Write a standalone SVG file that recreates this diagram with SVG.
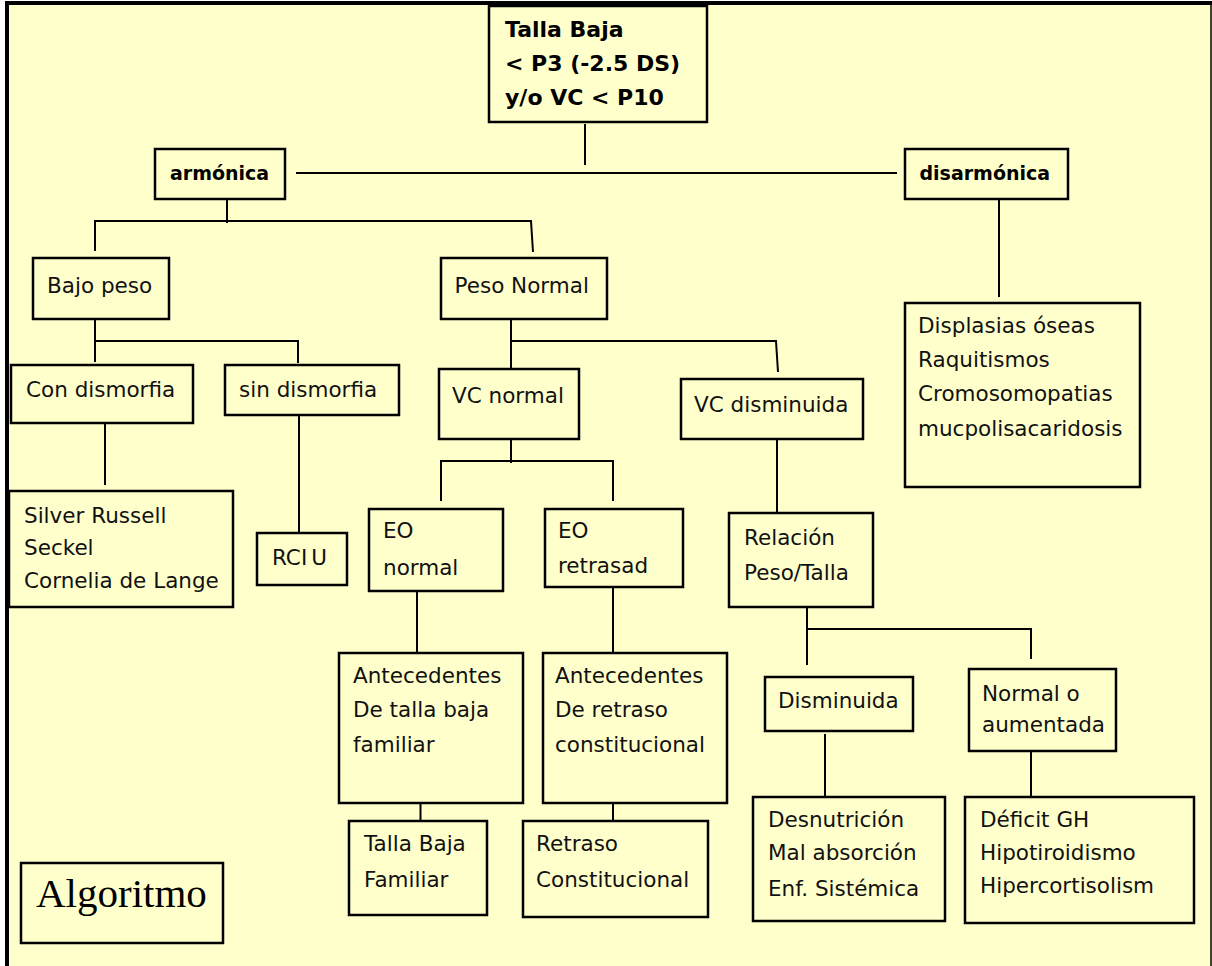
<svg xmlns="http://www.w3.org/2000/svg" width="1212" height="966" viewBox="0 0 1212 966">
<style>
.box{fill:#FFFFCC;stroke:#000;stroke-width:2.5}
.t{font-family:"DejaVu Sans","Liberation Sans",sans-serif;font-size:21.5px;fill:#111}
.b{font-family:"DejaVu Sans","Liberation Sans",sans-serif;font-weight:bold;fill:#000}
.c{fill:none;stroke:#000;stroke-width:2}
</style>
<rect x="0" y="0" width="1212" height="966" fill="#FFFFFF"/>
<rect x="5" y="1" width="1207" height="965" fill="#FFFFCC"/>
<rect x="5" y="1" width="1207" height="4" fill="#000"/>
<rect x="5" y="1" width="4" height="965" fill="#000"/>
<line x1="1211" y1="1" x2="1211" y2="966" stroke="#000" stroke-width="1.5"/>

<g id="connectors">
<path class="c" d="M585,124 V165"/>
<path class="c" d="M296,173 H897"/>
<path class="c" d="M227,197 V223"/>
<path class="c" d="M95,251 V221 H531 L533,252"/>
<path class="c" d="M95,317 V362 M95,341 H298 V363"/>
<path class="c" d="M511,317 V368 M511,341 H776 L778,372"/>
<path class="c" d="M105,420 V485"/>
<path class="c" d="M299,413 V533"/>
<path class="c" d="M511,437 V463 M441,501 V461 H613 V501"/>
<path class="c" d="M417,590 V653"/>
<path class="c" d="M613,586 V653"/>
<path class="c" d="M777,437 V517"/>
<path class="c" d="M807,605 V665 M807,629 H1031 V659"/>
<path class="c" d="M999,197 V297"/>
<path class="c" d="M420.5,768 V821"/>
<path class="c" d="M613,768 V820"/>
<path class="c" d="M825,734 V796"/>
<path class="c" d="M1031,748 V799"/>
</g>

<g id="n-title"><rect class="box" x="489" y="6" width="218" height="116"/>
<text class="b" font-size="22" x="505" y="37">Talla Baja</text>
<text class="b" font-size="22" x="505" y="71">&lt; P3 (-2.5 DS)</text>
<text class="b" font-size="22" x="505" y="105">y/o VC &lt; P10</text></g>

<g id="n-armonica"><rect class="box" x="155" y="149" width="130" height="50"/>
<text class="b" font-size="19" x="170" y="180">armónica</text></g>

<g id="n-disarmonica"><rect class="box" x="905" y="149" width="163" height="50"/>
<text class="b" font-size="19" x="919.5" y="180">disarmónica</text></g>

<g id="n-bajopeso"><rect class="box" x="33" y="258" width="136" height="61"/>
<text class="t" x="47" y="293">Bajo peso</text></g>

<g id="n-pesonormal"><rect class="box" x="441" y="258" width="166" height="61"/>
<text class="t" x="454.5" y="293">Peso Normal</text></g>

<g id="n-displasias"><rect class="box" x="905" y="303" width="235" height="184"/>
<text class="t" x="918" y="333">Displasias óseas</text>
<text class="t" x="918" y="367">Raquitismos</text>
<text class="t" x="918" y="401">Cromosomopatias</text>
<text class="t" x="918" y="436">mucpolisacaridosis</text></g>

<g id="n-condismorfia"><rect class="box" x="11" y="365" width="182" height="58"/>
<text class="t" x="26" y="397">Con dismorfia</text></g>

<g id="n-sindismorfia"><rect class="box" x="225" y="365" width="174" height="50"/>
<text class="t" x="239" y="397">sin dismorfia</text></g>

<g id="n-vcnormal"><rect class="box" x="439" y="369" width="140" height="70"/>
<text class="t" x="452" y="403">VC normal</text></g>

<g id="n-vcdisminuida"><rect class="box" x="681" y="379" width="182" height="60"/>
<text class="t" x="694" y="412">VC disminuida</text></g>

<g id="n-silver"><rect class="box" x="9" y="491" width="224" height="116"/>
<text class="t" x="24" y="523">Silver Russell</text>
<text class="t" x="24" y="555">Seckel</text>
<text class="t" x="24" y="588">Cornelia de Lange</text></g>

<g id="n-rciu"><rect class="box" x="257" y="533" width="90" height="52"/>
<text class="t" x="272" y="565">RCI<tspan dx="4">U</tspan></text></g>

<g id="n-eonormal"><rect class="box" x="369" y="509" width="134" height="82"/>
<text class="t" x="383" y="538">EO</text>
<text class="t" x="383" y="575">normal</text></g>

<g id="n-eoretrasad"><rect class="box" x="545" y="509" width="138" height="78"/>
<text class="t" x="558" y="538">EO</text>
<text class="t" x="558" y="573">retrasad</text></g>

<g id="n-relacion"><rect class="box" x="729" y="513" width="144" height="94"/>
<text class="t" x="744" y="545">Relación</text>
<text class="t" x="744" y="580">Peso/Talla</text></g>

<g id="n-antfam"><rect class="box" x="339" y="653" width="184" height="150"/>
<text class="t" x="353" y="683">Antecedentes</text>
<text class="t" x="353" y="717">De talla baja</text>
<text class="t" x="353" y="752">familiar</text></g>

<g id="n-antret"><rect class="box" x="543" y="653" width="184" height="150"/>
<text class="t" x="555" y="683">Antecedentes</text>
<text class="t" x="555" y="717">De retraso</text>
<text class="t" x="555" y="752">constitucional</text></g>

<g id="n-disminuida"><rect class="box" x="765" y="677" width="148" height="54"/>
<text class="t" x="778" y="708">Disminuida</text></g>

<g id="n-normalaum"><rect class="box" x="969" y="669" width="147" height="82"/>
<text class="t" x="982" y="701">Normal o</text>
<text class="t" x="982" y="732">aumentada</text></g>

<g id="n-tallabajafam"><rect class="box" x="349" y="821" width="138" height="94"/>
<text class="t" x="364" y="851">Talla Baja</text>
<text class="t" x="364" y="887">Familiar</text></g>

<g id="n-retraso"><rect class="box" x="523" y="821" width="185" height="96"/>
<text class="t" x="536" y="851">Retraso</text>
<text class="t" x="536" y="887">Constitucional</text></g>

<g id="n-desnutricion"><rect class="box" x="753" y="797" width="192" height="124"/>
<text class="t" x="768" y="827">Desnutrición</text>
<text class="t" x="768" y="860">Mal absorción</text>
<text class="t" x="768" y="896">Enf. Sistémica</text></g>

<g id="n-deficit"><rect class="box" x="965" y="797" width="229" height="126"/>
<text class="t" x="980" y="827">Déficit GH</text>
<text class="t" x="980" y="860">Hipotiroidismo</text>
<text class="t" x="980" y="893">Hipercortisolism</text></g>

<g id="n-algoritmo"><rect class="box" x="21" y="863" width="202" height="80"/>
<text x="36" y="907" font-family="'Liberation Serif','Times New Roman',serif" font-size="41" fill="#000">Algoritmo</text></g>
</svg>
